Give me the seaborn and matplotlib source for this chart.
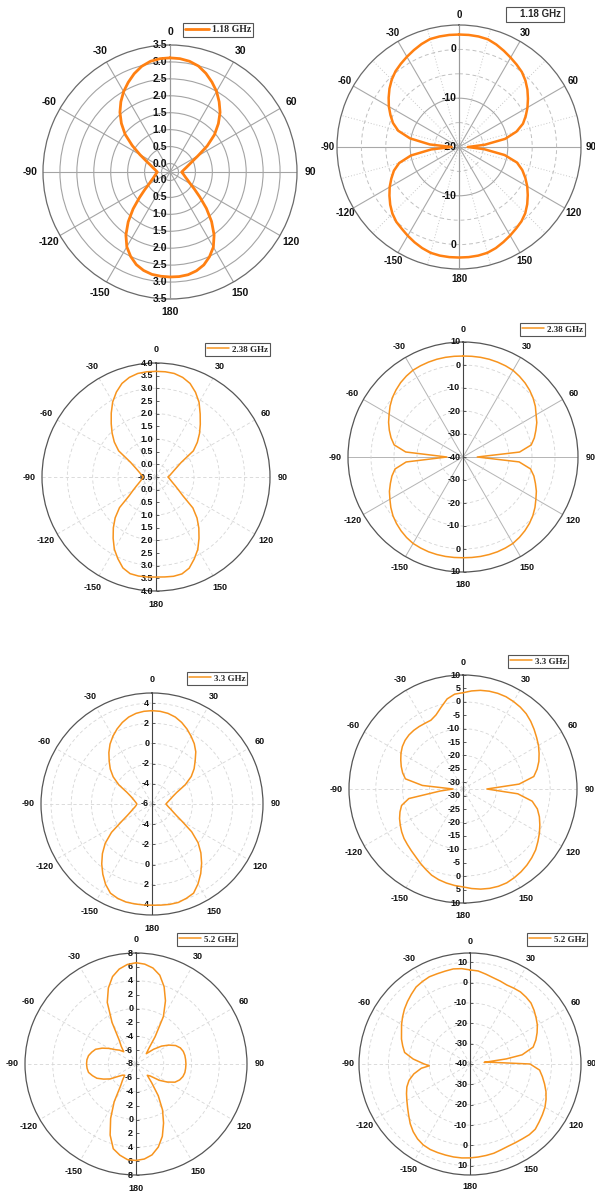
import numpy as np
import matplotlib
matplotlib.use("Agg")
import matplotlib.pyplot as plt
import seaborn as sns

sns.set_theme(style="white")
plt.rcParams["font.family"] = ["Liberation Sans", "DejaVu Sans"]
plt.rcParams["axes.unicode_minus"] = False

# ---------------------------------------------------------------- data
# observation angles in degrees, clockwise from 0 (top)
ANG_5 = [0, 5, 10, 15, 20, 25, 30, 35, 40, 45, 50, 55, 60, 65, 70, 75, 80, 85, 90,
         95, 100, 105, 110, 115, 120, 125, 130, 135, 140, 145, 150, 155, 160, 165,
         170, 175, 180, 185, 190, 195, 200, 205, 210, 215, 220, 225, 230, 235, 240,
         245, 250, 255, 260, 265, 270, 275, 280, 285, 290, 295, 300, 305, 310, 315,
         320, 325, 330, 335, 340, 345, 350, 355]
ANG_52_H = [0, 5, 10, 15, 20, 25, 30, 35, 40, 45, 50, 55, 60, 65, 70, 75, 80,
            82, 83.5, 85, 87.5,
            90, 95, 100, 105, 110, 115, 120, 125, 130, 135, 140, 145, 150, 155, 160,
            165, 170, 175, 180, 185, 190, 195, 200, 205, 210, 215, 220, 225, 230, 235,
            240, 245, 250, 255, 260, 265,
            267.5,
            270, 275, 280, 285, 290, 295, 300, 305, 310, 315, 320, 325, 330, 335, 340,
            345, 350, 355]

# 1.18 GHz
GAIN_118_E = [3.12, 3.11, 3.07, 2.99, 2.85, 2.68, 2.50, 2.28, 2.05, 1.77, 1.465, 1.09,
              0.70, 0.465, 0.33, 0.24, 0.175, 0.13, 0.095,
              0.12, 0.155, 0.195, 0.25, 0.33, 0.44, 0.63, 0.90, 1.27, 1.66, 2.02, 2.31,
              2.51, 2.67, 2.77, 2.83, 2.85,
              2.85, 2.84, 2.82, 2.76, 2.66, 2.50, 2.30, 2.02, 1.67, 1.29, 0.93, 0.66,
              0.47, 0.36, 0.28, 0.225, 0.185, 0.15,
              0.125, 0.16, 0.21, 0.28, 0.376, 0.53, 0.775, 1.11, 1.48, 1.78, 2.05, 2.28,
              2.49, 2.67, 2.84, 2.98, 3.07, 3.11]
GAIN_118_H = [3.05, 3.05, 3.0, 2.85, 2.35, 1.75, 1.15, 0.6, 0.05, -0.75, -1.7, -2.75,
              -3.8, -4.9, -6.05, -7.8, -10.4, -14.7, -18.2,
              -14.8, -10.5, -7.7, -6.2, -5.0, -3.85, -2.8, -1.75, -0.8, -0.1, 0.4, 0.95,
              1.5, 2.05, 2.45, 2.6, 2.65,
              2.65, 2.65, 2.6, 2.45, 2.05, 1.55, 1.0, 0.45, 0.0, -0.7, -1.6, -2.6, -3.6,
              -4.7, -5.8, -7.3, -10.0, -14.3,
              -18.5, -14.0, -9.8, -7.1, -5.6, -4.5, -3.4, -2.4, -1.4, -0.5, 0.25, 0.8,
              1.35, 1.9, 2.45, 2.9, 3.0, 3.05]
# 2.38 GHz
GAIN_238_E = [3.67, 3.67, 3.65, 3.57, 3.43, 3.19, 2.90, 2.54, 2.22, 1.93, 1.63, 1.30,
              0.645, 0.41, 0.26, 0.16, 0.085, 0.03, -0.03,
              0.015, 0.065, 0.13, 0.22, 0.35, 0.53, 0.80, 1.40, 1.79, 2.13, 2.46, 2.80,
              3.07, 3.33, 3.46, 3.48, 3.46,
              3.45, 3.46, 3.47, 3.45, 3.32, 3.06, 2.79, 2.45, 2.12, 1.78, 1.38, 0.80,
              0.54, 0.36, 0.23, 0.14, 0.08, 0.03,
              0.0, 0.04, 0.1, 0.17, 0.27, 0.42, 0.66, 1.3, 1.65, 1.95, 2.25, 2.58, 2.92,
              3.2, 3.43, 3.57, 3.65, 3.67]
GAIN_238_H = [3.9, 3.95, 4.0, 4.0, 3.9, 3.75, 3.5, 2.8, 2.0, 1.0, -0.2, -1.6, -3.3,
              -4.6, -6.3, -7.9, -9.9, -15.3, -33.8,
              -15.5, -10.2, -8.1, -6.5, -4.8, -3.4, -1.8, -0.35, 0.85, 1.85, 2.7, 3.4,
              3.65, 3.85, 3.9, 3.9, 3.85,
              3.8, 3.85, 3.9, 3.9, 3.85, 3.65, 3.4, 2.75, 1.9, 0.9, -0.25, -1.7, -3.3,
              -4.7, -6.4, -8.0, -10.0, -15.2,
              -33.0, -15.0, -9.6, -7.6, -5.9, -4.3, -2.9, -1.3, 0.1, 1.2, 2.2, 2.95,
              3.55, 3.75, 3.9, 4.0, 4.0, 3.95]
# 3.3 GHz
GAIN_33_E = [3.25, 3.22, 3.12, 2.92, 2.6, 2.2, 1.75, 1.3, 0.75, 0.05, -0.55, -1.25,
             -2.2, -3.3, -3.8, -4.1, -4.33, -4.5, -4.62,
             -4.5, -4.34, -4.1, -3.8, -3.35, -2.55, -1.2, -0.04, 0.85, 1.65, 2.42, 3.13,
             3.75, 3.95, 4.1, 4.1, 4.06,
             4.03, 4.04, 4.05, 4.05, 3.95, 3.75, 3.2, 2.5, 1.75, 0.95, 0.05, -1.1, -2.5,
             -3.3, -3.75, -4.05, -4.28, -4.42,
             -4.5, -4.4, -4.25, -4.05, -3.75, -3.25, -2.2, -1.3, -0.6, 0.0, 0.65, 1.25,
             1.75, 2.2, 2.6, 2.92, 3.12, 3.22]
GAIN_33_H = [3.4, 4.2, 4.85, 5.25, 5.45, 5.45, 5.15, 4.75, 4.15, 3.2, 2.1, 1.0, 0.0,
             -1.2, -2.4, -3.9, -5.7, -11.5, -23.6,
             -12.0, -6.3, -3.8, -2.2, -0.9, 0.4, 1.6, 2.85, 3.75, 4.55, 5.2, 5.7, 6.1,
             6.1, 5.85, 5.4, 4.75,
             4.0, 3.6, 3.1, 2.5, 1.7, 0.5, -0.6, -1.7, -2.5, -3.2, -3.8, -4.6, -5.5,
             -6.4, -7.5, -8.8, -12.0, -24.0,
             -28.8, -17.3, -10.7, -9.2, -8.0, -6.9, -5.8, -4.9, -4.3, -4.0, -3.95, -4.05,
             -4.2, -4.2, -3.1, -0.95, 1.6, 3.0]
# 5.2 GHz
GAIN_52_E = [6.6, 6.45, 6.05, 5.25, 3.85, 2.05, -0.1, -3.2, -5.2, -5.9, -4.7, -3.5,
             -2.55, -1.7, -1.2, -0.95, -0.85, -0.82, -0.8,
             -0.82, -0.85, -1.0, -1.3, -1.8, -2.8, -3.9, -5.3, -5.7, -4.5, -2.4, -0.35,
             1.4, 3.1, 4.4, 5.3, 5.75,
             5.9, 5.85, 5.35, 4.65, 2.9, 0.65, -1.7, -4.1, -5.0, -5.7, -5.5, -4.9, -3.7,
             -2.85, -2.0, -1.5, -1.05, -0.92,
             -0.87, -0.9, -1.05, -1.4, -1.8, -2.6, -3.5, -4.4, -4.9, -5.5, -4.7, -3.75,
             -1.1, 1.8, 3.65, 5.05, 5.9, 6.4]
GAIN_52_H = [6.2, 5.85, 4.8, 3.87, 3.33, 2.8, 3.0, 3.2, 2.85, 2.35, 1.05, -0.4, -1.8,
             -3.65, -5.6, -7.9, -14.0,
             -22.0, -33.0, -30.0, -25.2,
             -10.5, -5.7, -3.9, -2.1, -0.3, 1.2, 2.5, 3.4, 4.3, 5.3, 5.3, 4.85, 4.6, 4.5,
             4.8, 5.35, 5.6, 5.85, 6.1, 6.3, 6.35, 6.3, 6.3, 6.3, 5.9, 4.9, 3.4, 1.5,
             -0.7, -2.6, -4.2, -5.6, -7.0, -9.0, -12.0, -16.0,
             -20.0,
             -17.5, -12.0, -7.4, -5.8, -4.2, -2.9, -1.2, 0.4, 2.0, 3.4, 4.75, 6.15, 6.75,
             7.25, 7.15, 7.2, 7.4, 7.0]

LABELS = ["1.18 GHz", "1.18 GHz", "2.38 GHz", "2.38 GHz",
          "3.3 GHz", "3.3 GHz", "5.2 GHz", "5.2 GHz"]

# angular tick labels
THETA_TICKS = [0, 30, 60, 90, 120, 150, 180, 210, 240, 270, 300, 330]
THETA_TEXT = ["0", "30", "60", "90", "120", "150", "180",
              "-150", "-120", "-90", "-60", "-30"]

# radial tick labels, upper half (theta = 0) and lower half (theta = 180)
R_UP_118_E = [3.5, 3.0, 2.5, 2.0, 1.5, 1.0, 0.5, 0.0]
R_DN_118_E = [0.0, 0.5, 1.0, 1.5, 2.0, 2.5, 3.0, 3.5]
R_UP_118_H = [0, -10, -20]
R_DN_118_H = [-10, 0]
R_UP_238_E = [4.0, 3.5, 3.0, 2.5, 2.0, 1.5, 1.0, 0.5, 0.0, -0.5]
R_DN_238_E = [0.0, 0.5, 1.0, 1.5, 2.0, 2.5, 3.0, 3.5, 4.0]
R_UP_238_H = [10, 0, -10, -20, -30, -40]
R_DN_238_H = [-30, -20, -10, 0, 10]
R_UP_33_E = [4, 2, 0, -2, -4, -6]
R_DN_33_E = [-4, -2, 0, 2, 4]
R_UP_33_H = [10, 5, 0, -5, -10, -15, -20, -25, -30]
R_DN_33_H = [-30, -25, -20, -15, -10, -5, 0, 5, 10]
R_UP_52_E = [8, 6, 4, 2, 0, -2, -4, -6, -8]
R_DN_52_E = [-6, -4, -2, 0, 2, 4, 6, 8]
R_UP_52_H = [10, 0, -10, -20, -30, -40]
R_DN_52_H = [-30, -20, -10, 0, 10]

# ---------------------------------------------------------------- layout
W, H = 595, 1191
fig = plt.figure(figsize=(W / 100, H / 100), dpi=100)
fig.patch.set_facecolor("white")

ORANGE_A = "#FF8012"
ORANGE_B = "#F7941E"

panels = [
    dict(c=(170, 172), R=127, ang=ANG_5, g=GAIN_118_E, rlim=(-0.25, 3.5),
         up=R_UP_118_E, dn=R_DN_118_E, fmt="{:.1f}", lab=LABELS[0],
         rg=[0, 0.5, 1.0, 1.5, 2.0, 2.5, 3.0], style="solid", lw=2.0, col=ORANGE_A,
         fs=7.5, tfs=7.5, pad=2.5, leg=(183, 23), legserif=True, handle=True),
    dict(c=(459, 147), R=122, ang=ANG_5, g=GAIN_118_H, rlim=(-20, 5),
         up=R_UP_118_H, dn=R_DN_118_H, fmt="{:g}", lab=LABELS[1],
         rg=[-15, -10, -5, 0], style="mixed", lw=1.8, col=ORANGE_A,
         fs=7.5, tfs=7.0, pad=0.0, leg=(506, 7), legserif=False, handle=False),
    dict(c=(156, 477), R=114, ang=ANG_5, g=GAIN_238_E, rlim=(-0.5, 4.0),
         up=R_UP_238_E, dn=R_DN_238_E, fmt="{:.1f}", lab=LABELS[2],
         rg=[0.0, 1.0, 2.0, 3.0], style="light", lw=1.1, col=ORANGE_B,
         fs=6.5, tfs=6.5, pad=2.5, leg=(205, 343), legserif=True, handle=True),
    dict(c=(463, 457), R=115, ang=ANG_5, g=GAIN_238_H, rlim=(-40, 10),
         up=R_UP_238_H, dn=R_DN_238_H, fmt="{:g}", lab=LABELS[3],
         rg=[-30, -20, -10, 0], style="spokes", lw=1.1, col=ORANGE_B,
         fs=6.5, tfs=6.5, pad=2.0, leg=(520, 323), legserif=True, handle=True),
    dict(c=(152, 804), R=111, ang=ANG_5, g=GAIN_33_E, rlim=(-6, 5),
         up=R_UP_33_E, dn=R_DN_33_E, fmt="{:g}", lab=LABELS[4],
         rg=[-4, -2, 0, 2, 4], style="light", lw=1.1, col=ORANGE_B,
         fs=6.5, tfs=6.5, pad=2.5, leg=(187, 672), legserif=True, handle=True),
    dict(c=(463, 789), R=114, ang=ANG_5, g=GAIN_33_H, rlim=(-32.5, 10),
         up=R_UP_33_H, dn=R_DN_33_H, fmt="{:g}", lab=LABELS[5],
         rg=[-30, -20, -10, 0], style="light", lw=1.1, col=ORANGE_B,
         fs=6.5, tfs=6.5, pad=2.0, leg=(508, 655), legserif=True, handle=True),
    dict(c=(136, 1064), R=111, ang=ANG_5, g=GAIN_52_E, rlim=(-8, 8),
         up=R_UP_52_E, dn=R_DN_52_E, fmt="{:g}", lab=LABELS[6],
         rg=[-4, 0, 4], style="light", lw=1.1, col=ORANGE_B,
         fs=6.5, tfs=6.5, pad=2.5, leg=(177, 933), legserif=True, handle=True),
    dict(c=(470, 1064), R=111, ang=ANG_52_H, g=GAIN_52_H, rlim=(-40, 14.5),
         up=R_UP_52_H, dn=R_DN_52_H, fmt="{:g}", lab=LABELS[7],
         rg=[-30, -20, -10, 0, 10], style="light", lw=1.1, col=ORANGE_B,
         fs=6.5, tfs=6.5, pad=1.0, leg=(527, 933), legserif=True, handle=True),
]


def draw_panel(p):
    cx, cy = p["c"]
    R = p["R"]
    ax = fig.add_axes([(cx - R) / W, 1 - (cy + R) / H, 2 * R / W, 2 * R / H],
                      projection="polar")
    ax.set_facecolor("none")
    ax.set_theta_zero_location("N")
    ax.set_theta_direction(-1)

    # closed pattern curve
    theta = np.deg2rad(np.r_[p["ang"], p["ang"][0] + 360])
    gain = np.r_[p["g"], p["g"][0]]
    sns.lineplot(x=theta, y=gain, ax=ax, sort=False, estimator=None,
                 color=p["col"], linewidth=p["lw"], label=p["lab"], zorder=5)
    ax.set_ylim(*p["rlim"])
    ax.set_xlabel("")
    ax.set_ylabel("")

    # grids
    style = p["style"]
    if style == "mixed":
        ax.set_thetagrids(np.arange(0, 360, 15),
                          [THETA_TEXT[i // 2] if i % 2 == 0 else "" for i in range(24)],
                          fontsize=p["tfs"], fontweight="bold")
    else:
        ax.set_thetagrids(THETA_TICKS, THETA_TEXT, fontsize=p["tfs"], fontweight="bold")
    ax.set_rgrids(p["rg"], labels=[""] * len(p["rg"]))
    ax.grid(True)

    tgl = ax.xaxis.get_gridlines()
    rgl = ax.yaxis.get_gridlines()
    if style == "solid":
        for gl in list(tgl) + list(rgl):
            gl.set(color="#a4a4a4", linestyle="-", linewidth=0.8)
    elif style == "mixed":
        for i, gl in enumerate(tgl):
            if i % 2 == 0:
                gl.set(color="#a8a8a8", linestyle="-", linewidth=0.8)
            else:
                gl.set(color="#c8c8c8", linestyle=(0, (1, 2)), linewidth=0.7)
        for v, gl in zip(p["rg"], rgl):
            if v == -10:
                gl.set(color="#a8a8a8", linestyle="-", linewidth=0.8)
            else:
                gl.set(color="#c0c0c0", linestyle=(0, (4, 3)), linewidth=0.7)
    elif style == "spokes":
        for gl in tgl:
            gl.set(color="#b4b4b4", linestyle="-", linewidth=0.7)
        for gl in rgl:
            gl.set(color="#d4d4d4", linestyle=(0, (4, 3)), linewidth=0.6)
    else:
        for gl in list(tgl) + list(rgl):
            gl.set(color="#d6d6d6", linestyle=(0, (4, 3)), linewidth=0.6)

    ax.tick_params(axis="x", pad=p["pad"], length=0, colors="#111111")
    ax.tick_params(axis="y", length=0)
    if style not in ("solid", "mixed"):
        # short tick marks around the rim
        ax.set_xticks(np.deg2rad(np.arange(0, 360, 10)), minor=True)
        ax.tick_params(axis="x", which="minor", length=2.2, width=0.6,
                       direction="in", color="#555555")
    spine_col = "#6a6a6a" if style in ("solid", "mixed") else "#555555"
    ax.spines["polar"].set_color(spine_col)
    ax.spines["polar"].set_linewidth(0.9)

    # radial axis drawn along the vertical diameter
    axis_col = "#9a9a9a" if style in ("solid", "mixed") else "#444444"
    ax.axvline(0, color=axis_col, lw=0.8, zorder=3)
    ax.axvline(np.pi, color=axis_col, lw=0.8, zorder=3)
    if style not in ("solid", "mixed"):
        ax.plot(np.zeros(len(p["up"])), p["up"], ls="none", marker=1, ms=2.5,
                mew=0.6, color="#444444", zorder=3, clip_on=False)
        ax.plot(np.full(len(p["dn"]), np.pi), p["dn"], ls="none", marker=1, ms=2.5,
                mew=0.6, color="#444444", zorder=3, clip_on=False)

    for v in p["up"]:
        ax.annotate(p["fmt"].format(v), xy=(0, v), xytext=(-2, 0),
                    textcoords="offset points", ha="right", va="center",
                    fontsize=p["fs"], fontweight="bold", color="#111111",
                    annotation_clip=False, zorder=4)
    for v in p["dn"]:
        ax.annotate(p["fmt"].format(v), xy=(np.pi, v), xytext=(-2, 0),
                    textcoords="offset points", ha="right", va="center",
                    fontsize=p["fs"], fontweight="bold", color="#111111",
                    annotation_clip=False, zorder=4)

    # legend box
    lx, ly = p["leg"]
    prop = dict(family="Liberation Serif" if p["legserif"] else "Liberation Sans",
                weight="bold", size=7 if p["R"] > 120 else 6.5)
    leg = ax.legend(loc="upper left", bbox_to_anchor=(lx / W, 1 - ly / H),
                    bbox_transform=fig.transFigure, borderaxespad=0, borderpad=0.25,
                    handlelength=2.4 if p["handle"] else 0.0,
                    handletextpad=0.3 if p["handle"] else 1.2,
                    frameon=True, fancybox=False, framealpha=1, edgecolor="#555555",
                    prop=prop)
    leg.get_frame().set_linewidth(0.8)
    if not p["handle"]:
        for h in leg.legend_handles:
            h.set_visible(False)
    return ax


for p in panels:
    draw_panel(p)

fig.savefig("out.png", dpi=100, facecolor="white")
